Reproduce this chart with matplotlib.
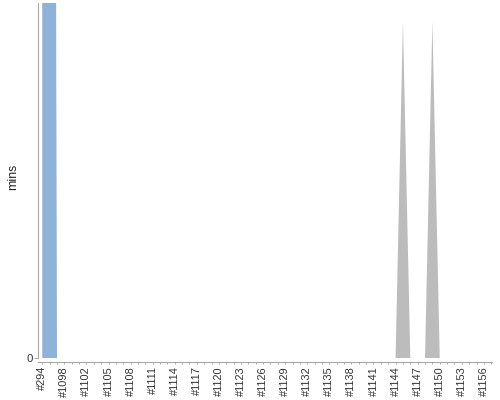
import numpy as np
import matplotlib
matplotlib.use("Agg")
import matplotlib.pyplot as plt

plt.rcParams['font.family'] = ['Liberation Sans', 'DejaVu Sans']

# Build numbers (categories)
builds = ["#294", "#1096", "#1097", "#1098", "#1099", "#1101"] + \
         ["#%d" % n for n in range(1102, 1158)]

# Build durations in minutes (stacked series)
blue_mins = [180.0, 8.0] + [0.0] * (len(builds) - 2)
gray_mins = [0.0] * len(builds)
gray_mins[49] = 0.90   # #1145
gray_mins[53] = 0.90   # #1149

y_max = 0.95
y_ticks = [0]
y_label = "mins"

W, H = 500, 400
fig = plt.figure(figsize=(W / 100, H / 100), dpi=100)
ax = fig.add_axes([38 / W, 42 / H, (492 - 38) / W, (358 - 3) / H])

x = np.arange(len(builds))
blue = np.array(blue_mins)
gray = np.array(gray_mins)
ax.fill_between(x, 0, blue, color='#729FCF', alpha=0.8, lw=0)
ax.fill_between(x, blue, blue + gray, color='#ABABAB', alpha=0.8, lw=0)

ax.set_xlim(-0.58, len(builds) - 0.9)
ax.set_ylim(0, y_max)

for s in ['top', 'right']:
    ax.spines[s].set_visible(False)
axis_col = '#a8a8a8'
for s in ['left', 'bottom']:
    ax.spines[s].set_color(axis_col)
    ax.spines[s].set_linewidth(0.8)
ax.spines['bottom'].set_position(('outward', 2.8))

ax.set_xticks(x)
ax.set_xticklabels([b if i % 3 == 0 else '' for i, b in enumerate(builds)],
                   rotation=90, fontsize=7.9, color='#333333')
ax.tick_params(axis='x', length=1.6, width=0.7, color=axis_col, pad=1.4)
ax.set_yticks(y_ticks)
ax.set_yticklabels([str(t) for t in y_ticks], fontsize=8.2, color='#333333')
ax.tick_params(axis='y', length=2.8, width=0.7, color=axis_col, pad=1.2)

ax.set_ylabel(y_label, fontsize=8.8, color='#222222')
ax.yaxis.set_label_coords((19 - 38) / 454, 0.51)

fig.savefig('out.png', dpi=100)
